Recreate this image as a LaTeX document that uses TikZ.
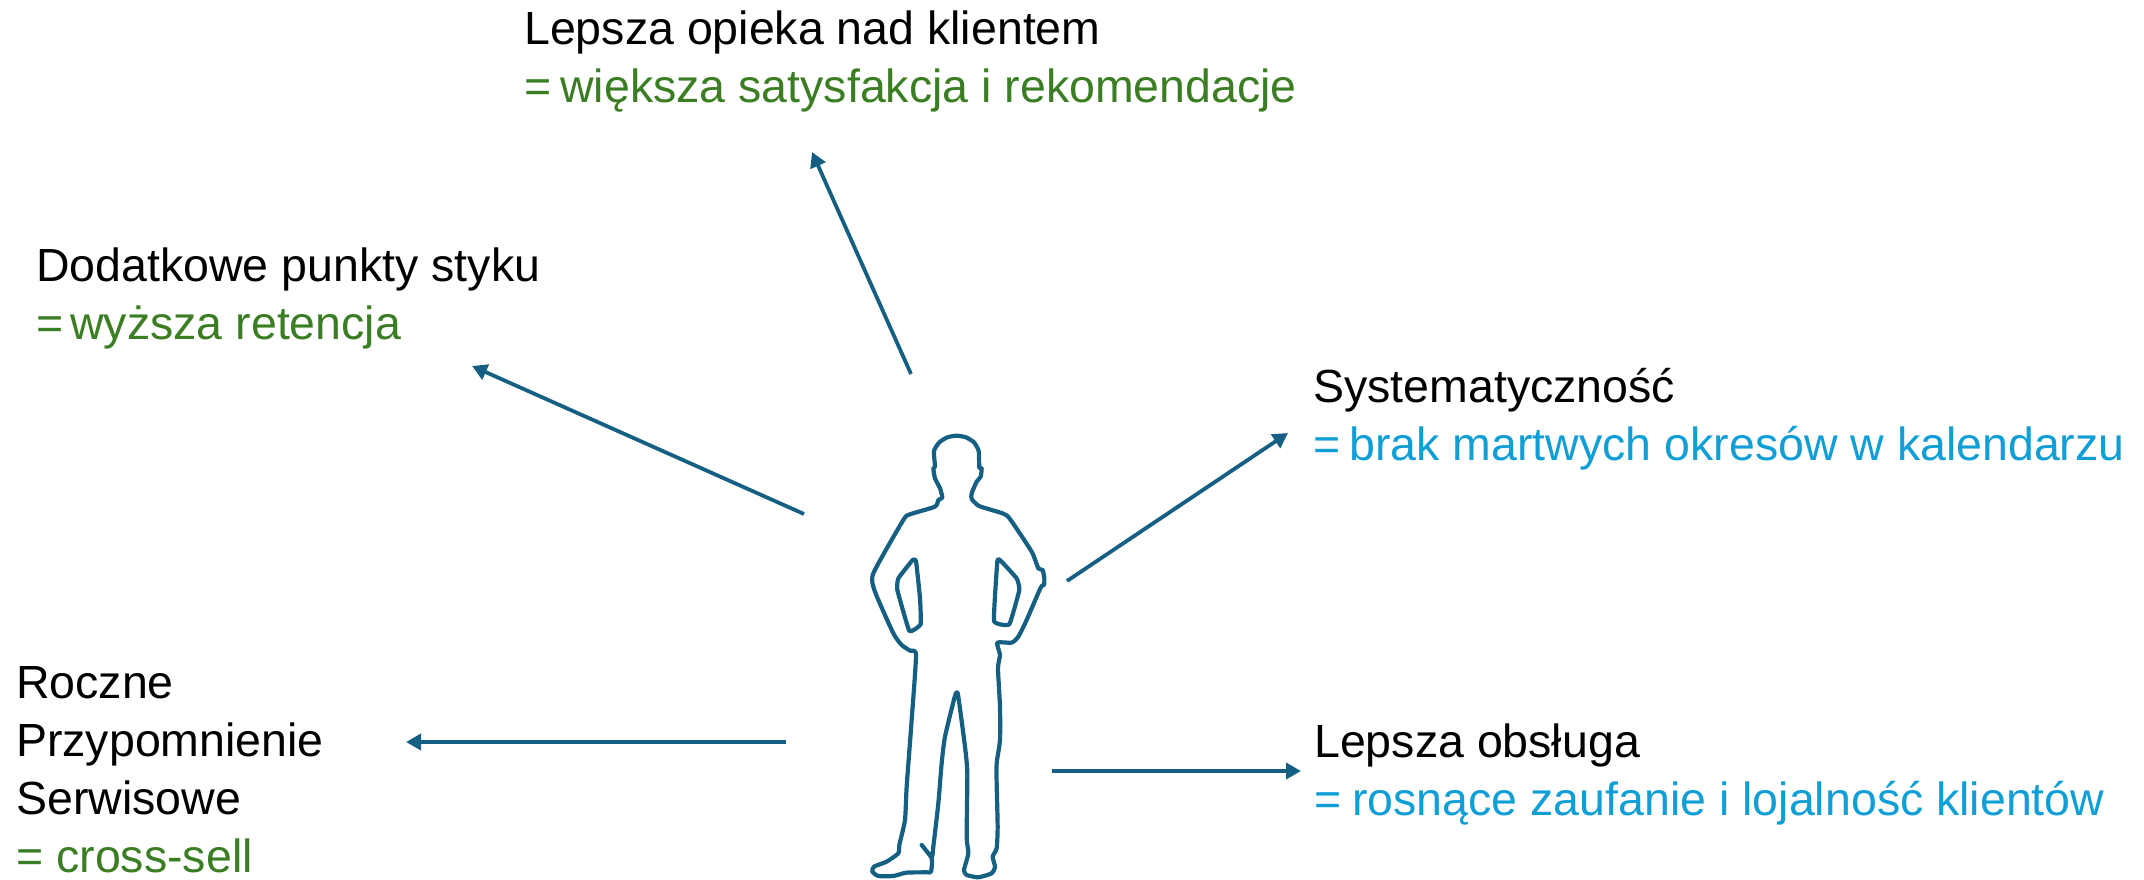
\documentclass[tikz,border=0pt]{standalone}
\usepackage{fontspec}
\setmainfont{Liberation Sans}
\usetikzlibrary{arrows.meta}
\definecolor{arrowblue}{HTML}{156082}
\definecolor{txtgreen}{HTML}{3B7D23}
\definecolor{txtblue}{HTML}{0F9ED5}
\newcommand{\eqs}[1][9pt]{=\kern#1}
\tikzset{
  lbl/.style={anchor=north west,inner sep=0pt,align=left,font=\fontsize{46.5}{58}\selectfont},
  link/.style={arrowblue,line width=3.8pt,-{Triangle[length=15pt,width=16pt]}},
  figure/.style={arrowblue,line width=4.2pt,line join=round}
}
\begin{document}
\begin{tikzpicture}[x=1pt,y=-1pt]
\useasboundingbox (0,0) rectangle (2144,879);
\node[lbl] (care) at (524,11) {Lepsza opieka nad klientem\\\textcolor{txtgreen}{\eqs większa satysfakcja i rekomendacje}};
\node[lbl] (touch) at (36,248) {Dodatkowe punkty styku\\\textcolor{txtgreen}{\eqs[7pt] wyższa retencja}};
\node[lbl] (system) at (1313,368) {Systematyczność\\\textcolor{txtblue}{\eqs brak martwych okresów w kalendarzu}};
\node[lbl] (remind) at (16,666) {Roczne\\Przypomnienie\\Serwisowe\\\textcolor{txtgreen}{\eqs[13pt] cross-sell}};
\node[lbl] (service) at (1314,724) {Lepsza obsługa\\\textcolor{txtblue}{\eqs[11pt] rosnące zaufanie i lojalność klientów}};
\coordinate (a1) at (911,374);
\coordinate (b1) at (812,152);
\coordinate (a2) at (804,514);
\coordinate (b2) at (472,366);
\coordinate (a3) at (786,742);
\coordinate (b3) at (406,742);
\coordinate (a4) at (1067,581);
\coordinate (b4) at (1288,433);
\coordinate (a5) at (1052,771);
\coordinate (b5) at (1301,771);
\foreach \i in {1,...,5}
\draw[link] (a\i) -- (b\i);
% person, traced
\begin{scope}[xshift=860pt,yshift=-425pt,x=.3333pt,y=-.3333pt]
\draw[figure] plot[smooth cycle,tension=.35] coordinates {
(290,32)(318,37)(342,52)(356,78)(358,128)(365,130)(362,155)(350,170)(335,205)(335,222)(350,238)(362,245)
(430,266)(450,282)(515,380)(535,430)(548,435)(553,460)(552,480)(542,488)(500,585)(475,635)(455,653)
(412,653)(420,690)(414,730)(420,845)(420,945)(410,1015)(410,1075)(413,1205)(410,1270)(398,1295)
(405,1325)(395,1345)(355,1357)(320,1350)(312,1335)(325,1285)(320,1235)(322,1045)(315,965)(295,815)
(290,802)(283,820)(255,935)(245,1015)(235,1135)(220,1265)(215,1295)(185,1260)(215,1300)(213,1340)
(200,1342)(140,1343)(100,1353)(55,1353)(37,1340)(42,1325)(80,1310)(115,1285)(118,1260)(135,1185)
(140,1085)(155,885)(168,690)(150,677)(125,660)(100,625)(45,500)(40,445)(130,285)(150,268)
(225,245)(235,225)(247,218)(240,190)(225,160)(220,130)(225,125)(222,78)(238,52)(262,37)};
\draw[figure] plot[smooth cycle,tension=.2] coordinates {
(158,405)(168,408)(180,520)(182,598)(148,618)(112,495)(115,460)};
\draw[figure] plot[smooth cycle,tension=.2] coordinates {
(420,405)(470,460)(478,495)(448,598)(402,588)(412,410)};
\end{scope}
\end{tikzpicture}
\end{document}
